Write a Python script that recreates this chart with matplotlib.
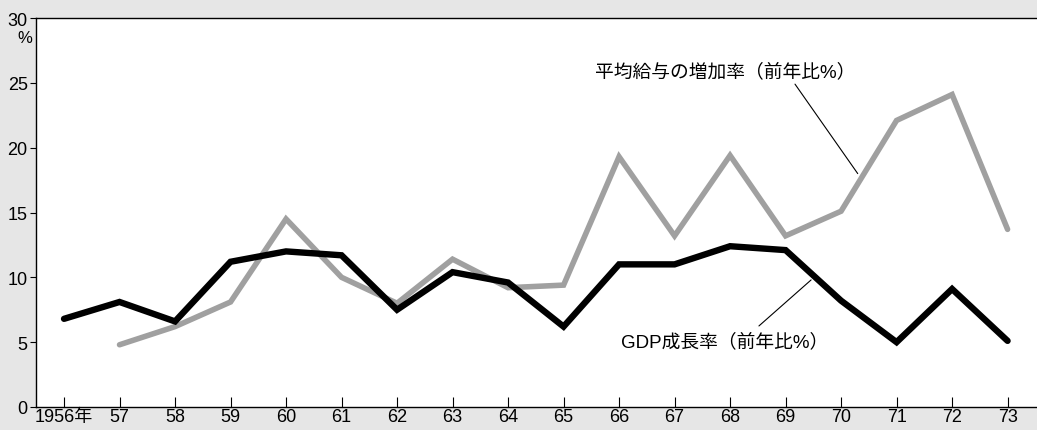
import matplotlib.pyplot as plt

plt.rcParams['font.family'] = ['Liberation Sans', 'Noto Sans CJK JP', 'DejaVu Sans']

# 年（1956〜1973）
years = list(range(1956, 1974))
year_labels = ['1956年'] + [str(y % 100) for y in years[1:]]

# GDP成長率（前年比%）
gdp_growth = [6.8, 8.1, 6.6, 11.2, 12.0, 11.7, 7.5, 10.4, 9.6, 6.2,
              11.0, 11.0, 12.4, 12.1, 8.2, 5.0, 9.1, 5.1]

# 平均給与の増加率（前年比%）、1957年から
wage_years = years[1:]
wage_growth = [4.8, 6.2, 8.1, 14.5, 10.0, 8.0, 11.4, 9.2, 9.4,
               19.3, 13.2, 19.4, 13.2, 15.1, 22.1, 24.1, 13.7]

y_ticks = [0, 5, 10, 15, 20, 25, 30]

fig = plt.figure(figsize=(10.37, 4.31), dpi=100, facecolor='#e6e6e6')
ax = fig.add_axes([36 / 1037, 23 / 431, 1 - 36 / 1037, 389 / 431])
ax.set_facecolor('white')

ax.plot(wage_years, wage_growth, color='#a0a0a0', lw=4.0,
        solid_capstyle='round', solid_joinstyle='miter', zorder=2)
ax.plot(years, gdp_growth, color='black', lw=4.6,
        solid_capstyle='round', solid_joinstyle='miter', zorder=3)

ax.set_xlim(1955.495, 1973.53)
ax.set_ylim(0, 30)

ax.set_xticks(years)
ax.set_xticklabels(year_labels)
ax.set_yticks(y_ticks)
ax.set_yticklabels([str(v) for v in y_ticks])
ax.tick_params(axis='x', direction='in', length=7, width=0.8, labelsize=13, pad=1)
ax.tick_params(axis='y', direction='out', length=4, width=0.8, labelsize=13, pad=2)

for s in ['left', 'top', 'bottom']:
    ax.spines[s].set_linewidth(1.0)
ax.spines['right'].set_visible(False)

# 単位
ax.text(-0.0035, 0.951, '%', transform=ax.transAxes, ha='right', va='center', fontsize=12)

# 系列ラベル
ax.text(1967.92, 25.9, '平均給与の増加率（前年比%）', ha='center', va='center', fontsize=13.5)
ax.text(1967.91, 5.1, 'GDP成長率（前年比%）', ha='center', va='center', fontsize=13.5)

# 引出し線
line_style = dict(arrowstyle='-', color='black', lw=0.8, shrinkA=0, shrinkB=0)
ax.annotate('', xy=(1970.3, 18.0), xytext=(1969.17, 24.9), arrowprops=line_style)
ax.annotate('', xy=(1969.46, 9.8), xytext=(1968.52, 6.25), arrowprops=line_style)

fig.savefig('out.png', dpi=100, facecolor=fig.get_facecolor())
